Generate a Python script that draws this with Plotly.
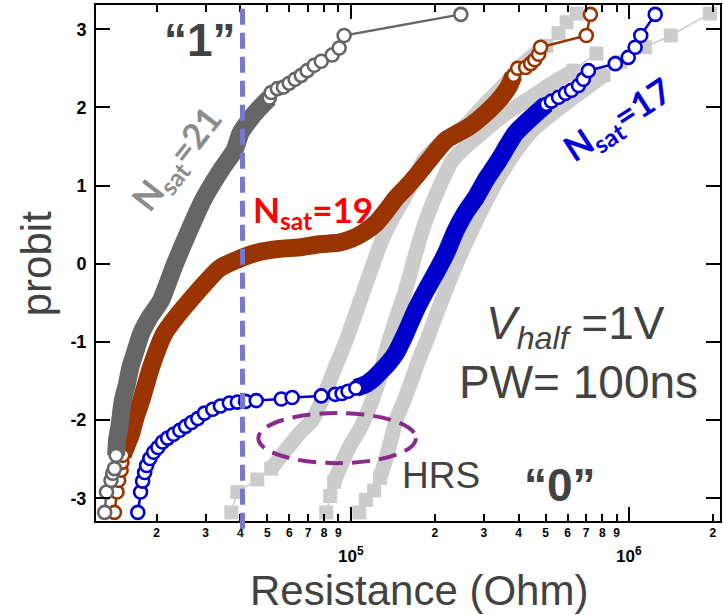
import math
import plotly.graph_objects as go

K = 1e3  # values below are in kOhm

# ---------------- N_sat = 21 (dark grey) ----------------
n21_low_R = [13.0, 13.2, 13.7, 13.9, 14.1]
n21_low_p = [-3.18, -2.92, -2.77, -2.68, -2.62]
n21_mid_R = [14.3, 14.4, 14.7, 15.1, 15.6, 16.1, 16.8, 17.6, 18.9, 20.7, 23.1, 25.9,
             29.3, 34.5, 38.1, 40.0, 43.8, 46.0, 50.8]
n21_mid_p = [-2.45, -2.26, -2.07, -1.75, -1.55, -1.32, -1.11, -0.89, -0.68, -0.47, -0.03, 0.39,
             0.81, 1.23, 1.45, 1.67, 1.87, 1.96, 2.12]
n21_top_R = [51.6, 54.3, 57.1, 59.9, 62.9, 66.2, 69.5, 73.7, 78.1, 85.5, 90.6, 94.4, 248]
n21_top_p = [2.19, 2.24, 2.26, 2.31, 2.36, 2.41, 2.47, 2.54, 2.59, 2.67, 2.76, 2.92, 3.19]

# ---------------- N_sat = 19 (brown) ----------------
n19_low_R = [14.1, 14.4, 14.6, 14.9, 15.0]
n19_low_p = [-3.18, -2.92, -2.77, -2.64, -2.54]
n19_mid_R = [15.1, 15.6, 16.2, 16.8, 17.6, 19.1, 21.3, 23.6, 26.3, 29.8, 33.6, 40.0, 46.8,
             55.2, 65.1, 76.8, 90.6, 102, 111, 123, 134, 145, 157, 172, 190, 219, 265, 312,
             339, 368, 384]
n19_mid_p = [-2.45, -2.32, -2.17, -1.96, -1.75, -1.32, -0.89, -0.67, -0.47, -0.25, -0.06, 0.07,
             0.15, 0.19, 0.21, 0.25, 0.27, 0.33, 0.40, 0.52, 0.68, 0.84, 0.97, 1.13, 1.32, 1.58,
             1.75, 1.96, 2.09, 2.26, 2.41]
n19_top_R = [397, 424, 442, 457, 472, 480, 701, 725]
n19_top_p = [2.50, 2.51, 2.56, 2.61, 2.68, 2.77, 2.92, 3.19]

# ---------------- N_sat = 17 (blue) ----------------
n17_low_R = [17.1, 17.5, 17.8, 18.1, 18.4, 18.9, 19.5, 20.2, 21.0, 21.9, 23.0, 24.2, 25.4,
             26.7, 28.1, 29.7, 31.8, 33.9, 36.5, 39.0, 41.7, 45.6, 56.1, 61.4, 78.1, 87.6,
             92.8, 97.5]
n17_low_p = [-3.18, -2.92, -2.78, -2.67, -2.58, -2.49, -2.41, -2.35, -2.28, -2.23, -2.18, -2.13,
             -2.08, -2.03, -1.98, -1.91, -1.86, -1.82, -1.78, -1.77, -1.76, -1.75, -1.73, -1.71,
             -1.69, -1.67, -1.66, -1.63]
n17_mid_R = [104, 113, 121, 129, 137, 145, 157, 171, 186, 202, 219, 238, 258, 281, 307, 339,
             390, 445, 504]
n17_mid_p = [-1.59, -1.54, -1.46, -1.36, -1.26, -1.14, -0.89, -0.59, -0.34, -0.11, 0.13, 0.43,
             0.66, 0.85, 1.09, 1.32, 1.67, 1.87, 2.04]
n17_top_R = [525, 557, 590, 620, 657, 684, 713, 891, 992, 1050, 1100, 1240]
n17_top_p = [2.08, 2.13, 2.18, 2.22, 2.28, 2.36, 2.47, 2.56, 2.64, 2.77, 2.92, 3.19]

# ---------------- HRS distributions (light grey) ----------------
hrs_a_low_R = [37.1, 39.0, 46.0]
hrs_a_low_p = [-3.18, -2.92, -2.76]
hrs_a_mid_R = [51.6, 57.5, 65.1, 72.5, 80.0, 86.9, 96.0, 105, 116, 129, 143, 161, 182, 216,
               254, 305, 353, 400, 453, 504]
hrs_a_mid_p = [-2.62, -2.41, -2.17, -2.00, -1.68, -1.36, -0.98, -0.59, -0.15, 0.30, 0.62, 0.94,
               1.32, 1.58, 1.75, 2.05, 2.28, 2.50, 2.67, 2.79]
hrs_a_top_R = [557, 595, 646]
hrs_a_top_p = [2.95, 3.09, 3.20]

hrs_b_low_R = [81.4, 84.1]
hrs_b_low_p = [-3.18, -2.97]
hrs_b_mid_R = [86.9, 92.9, 100, 107, 112, 119, 126, 131, 137, 145, 155, 165, 176, 190, 207,
               231, 259, 288, 353, 427, 513, 630]
hrs_b_mid_p = [-2.79, -2.54, -2.30, -2.13, -1.98, -1.75, -1.49, -1.23, -0.98, -0.70, -0.40,
               -0.06, 0.30, 0.65, 0.97, 1.32, 1.50, 1.64, 1.90, 2.09, 2.28, 2.47]
hrs_b_top_R = [762]
hrs_b_top_p = [2.69]

hrs_c_low_R = [107, 113, 121]
hrs_c_low_p = [-3.18, -3.02, -2.90]
hrs_c_mid_R = [127, 133, 139, 145, 155, 165, 175, 187, 202, 219, 238, 261, 288, 320, 353, 393,
               442, 504, 580, 685, 808]
hrs_c_mid_p = [-2.74, -2.51, -2.26, -2.00, -1.75, -1.49, -1.23, -0.98, -0.66, -0.34, -0.02,
               0.30, 0.62, 0.94, 1.20, 1.45, 1.68, 1.86, 2.03, 2.22, 2.41]
hrs_c_top_R = [929, 1140, 1410, 1950]
hrs_c_top_p = [2.58, 2.77, 2.92, 3.20]

# read threshold and axis ticks
threshold_R = 40.7
minor_tick_R = [20, 30, 40, 50, 60, 70, 80, 90, 200, 300, 400, 500, 600, 700, 800, 900, 2000]
minor_tick_text = ["2", "3", "4", "5", "6", "7", "8", "9",
                   "2", "3", "4", "5", "6", "7", "8", "9", "2"]
decade_R = [100, 1000]
decade_text = ["10<sup>5</sup>", "10<sup>6</sup>"]
probit_ticks = [-3, -2, -1, 0, 1, 2, 3]
probit_tick_text = ["-3", "-2", "-1", "0", "1", "2", "3"]

FONT = "Liberation Sans, Arial, sans-serif"
TEXT_GREY = "#424242"

fig = go.Figure()


def add_series(low, mid, top, color, symbol, band_w, msize, mline, fill, tail_w):
    (lr, lp), (mr, mp), (tr, tp) = low, mid, top
    # densely packed measurements form a solid band
    fig.add_trace(go.Scatter(
        x=[r * K for r in mr], y=mp, mode="lines",
        line=dict(color=color, width=band_w, shape="spline", smoothing=0.6),
        hoverinfo="skip", showlegend=False))
    # sparse tails drawn as individual markers
    for xs, ys in ((lr + mr[:1], lp + mp[:1]), (mr[-1:] + tr, mp[-1:] + tp)):
        fig.add_trace(go.Scatter(
            x=[r * K for r in xs], y=ys, mode="lines+markers",
            line=dict(color=color, width=tail_w),
            marker=dict(symbol=symbol, size=msize, color=fill,
                        line=dict(color=color, width=mline)),
            hoverinfo="skip", showlegend=False))


HRS_GREY = "#cccccc"
for low, mid, top in (
        ((hrs_a_low_R, hrs_a_low_p), (hrs_a_mid_R, hrs_a_mid_p), (hrs_a_top_R, hrs_a_top_p)),
        ((hrs_b_low_R, hrs_b_low_p), (hrs_b_mid_R, hrs_b_mid_p), (hrs_b_top_R, hrs_b_top_p)),
        ((hrs_c_low_R, hrs_c_low_p), (hrs_c_mid_R, hrs_c_mid_p), (hrs_c_top_R, hrs_c_top_p))):
    add_series(low, mid, top, HRS_GREY, "square", 15, 14, 0, HRS_GREY, 1.5)

add_series((n19_low_R, n19_low_p), (n19_mid_R, n19_mid_p), (n19_top_R, n19_top_p),
           "#993300", "circle", 18, 13, 2.6, "white", 2.5)
add_series((n17_low_R, n17_low_p), (n17_mid_R, n17_mid_p), (n17_top_R, n17_top_p),
           "#0000cc", "circle", 18, 13, 2.6, "white", 2.5)
add_series((n21_low_R, n21_low_p), (n21_mid_R, n21_mid_p), (n21_top_R, n21_top_p),
           "#666666", "circle", 18, 13, 2.6, "white", 2.5)

# threshold between "1" and "0"
fig.add_shape(type="line", xref="x", yref="paper", x0=threshold_R * K, x1=threshold_R * K,
              y0=-0.015, y1=1, line=dict(color="#7777cc", width=5, dash="16px,8px"))
# HRS group outline
fig.add_shape(type="circle", xref="x", yref="y", x0=46.4 * K, x1=171 * K, y0=-2.55, y1=-1.91,
              line=dict(color="#8b2a8b", width=4, dash="18px,9px"))

annotations = [
    dict(x=0.166, y=0.932, text="“1”", font=dict(size=46, color=TEXT_GREY, weight="bold")),
    dict(x=0.744, y=0.070, text="“0”", font=dict(size=46, color=TEXT_GREY, weight="bold")),
    dict(x=0.131, y=0.700, text="N<sub>sat</sub>=21", textangle=-52,
         font=dict(family="Lato, " + FONT, size=35, color="#8c8c8c", weight="bold")),
    dict(x=0.348, y=0.599, text="N<sub>sat</sub>=19",
         font=dict(family="Lato, " + FONT, size=35, color="#ff0000", weight="bold")),
    dict(x=0.837, y=0.777, text="N<sub>sat</sub>=17", textangle=-33,
         font=dict(family="Lato, " + FONT, size=35, color="#0000dd", weight="bold")),
    dict(x=0.768, y=0.376, text="<i>V<sub>half</sub></i> =1V",
         font=dict(size=46, color=TEXT_GREY)),
    dict(x=0.773, y=0.269, text="PW= 100ns", font=dict(size=46, color=TEXT_GREY)),
    dict(x=0.553, y=0.089, text="HRS", font=dict(size=37, color=TEXT_GREY)),
    dict(x=-0.0958, y=0.498, text="probit", textangle=-90,
         font=dict(size=42, color=TEXT_GREY)),
    dict(x=0.5176, y=-0.134, text="Resistance (Ohm)", font=dict(size=42, color=TEXT_GREY)),
]
for a in annotations:
    a.setdefault("xref", "paper")
    a.setdefault("yref", "paper")
    a["showarrow"] = False
    a["xanchor"] = "center"
    a["yanchor"] = "middle"
    a["font"].setdefault("family", FONT)
    fig.add_annotation(**a)

for r, t in zip(decade_R, decade_text):
    fig.add_annotation(x=math.log10(r * K), y=-0.066, xref="x", yref="paper", text=t,
                       showarrow=False, xanchor="center", yanchor="middle",
                       font=dict(family=FONT, size=17, color="black", weight="bold"))

fig.update_xaxes(
    type="log", range=[math.log10(12.1e3), math.log10(2.12e6)],
    tickmode="array", tickvals=[r * K for r in minor_tick_R], ticktext=minor_tick_text,
    ticks="inside", ticklen=7, tickwidth=2, tickcolor="black",
    minor=dict(tickmode="array", tickvals=[r * K for r in decade_R], ticks="inside",
               ticklen=14, tickwidth=2, tickcolor="black"),
    tickfont=dict(family=FONT, size=12, color="black", weight="bold"),
    showline=True, linewidth=2, linecolor="black", mirror="ticks",
    showgrid=False, zeroline=False)
fig.update_yaxes(
    range=[-3.29, 3.31], tickmode="array", tickvals=probit_ticks, ticktext=probit_tick_text,
    ticks="inside", ticklen=14, tickwidth=2, tickcolor="black",
    tickfont=dict(family=FONT, size=18, color="black", weight="bold"),
    ticklabelstandoff=4,
    showline=True, linewidth=2, linecolor="black", mirror="ticks",
    showgrid=False, zeroline=False)

fig.update_layout(width=723, height=615, margin=dict(l=96, r=1, t=5, b=94),
                  plot_bgcolor="white", paper_bgcolor="white", showlegend=False)

fig.write_html("out.html")
